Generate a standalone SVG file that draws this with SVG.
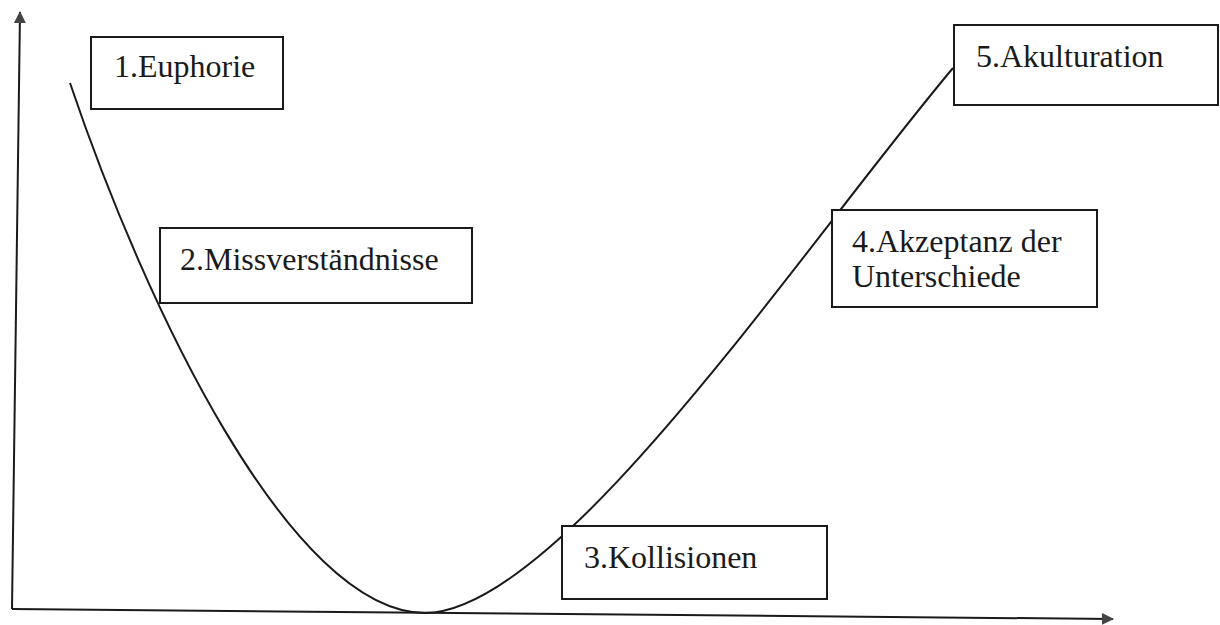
<svg xmlns="http://www.w3.org/2000/svg" width="1220" height="625" viewBox="0 0 1220 625">
<style>
.box{fill:#fff;stroke:#1a1a1a;stroke-width:2}
.lbl{font-family:"Liberation Serif","Times New Roman",serif;font-size:32px;fill:#1a1a1a}
.ln{fill:none;stroke:#1a1a1a;stroke-width:2}
</style>
<defs>
<marker id="ah" viewBox="0 0 12 12" refX="11" refY="6" markerWidth="12" markerHeight="12" markerUnits="userSpaceOnUse" orient="auto">
<path d="M0,0 L12,6 L0,12 Z" fill="#444"/>
</marker>
</defs>
<rect width="1220" height="625" fill="#fff"/>
<g id="connectors">
<line class="ln" x1="12" y1="609" x2="20" y2="12" marker-end="url(#ah)"/>
<line class="ln" x1="12" y1="609" x2="1113" y2="619" marker-end="url(#ah)"/>
<path class="ln" d="M70,83 C145,305 290,612 425,613 C560,612 800,250 953,68"/>
</g>
<g id="n1">
<rect class="box" x="91" y="37" width="192" height="72"/>
<text class="lbl" x="114" y="77">1.Euphorie</text>
</g>
<g id="n2">
<rect class="box" x="160" y="228" width="312" height="75"/>
<text class="lbl" x="180" y="270">2.Missverständnisse</text>
</g>
<g id="n3">
<rect class="box" x="562" y="526" width="265" height="73"/>
<text class="lbl" x="584" y="568">3.Kollisionen</text>
</g>
<g id="n4">
<rect class="box" x="832" y="210" width="265" height="97"/>
<text class="lbl" x="852" y="252">4.Akzeptanz der</text>
<text class="lbl" x="852" y="287">Unterschiede</text>
</g>
<g id="n5">
<rect class="box" x="954" y="25" width="264" height="80"/>
<text class="lbl" x="976" y="67">5.Akulturation</text>
</g>
</svg>
